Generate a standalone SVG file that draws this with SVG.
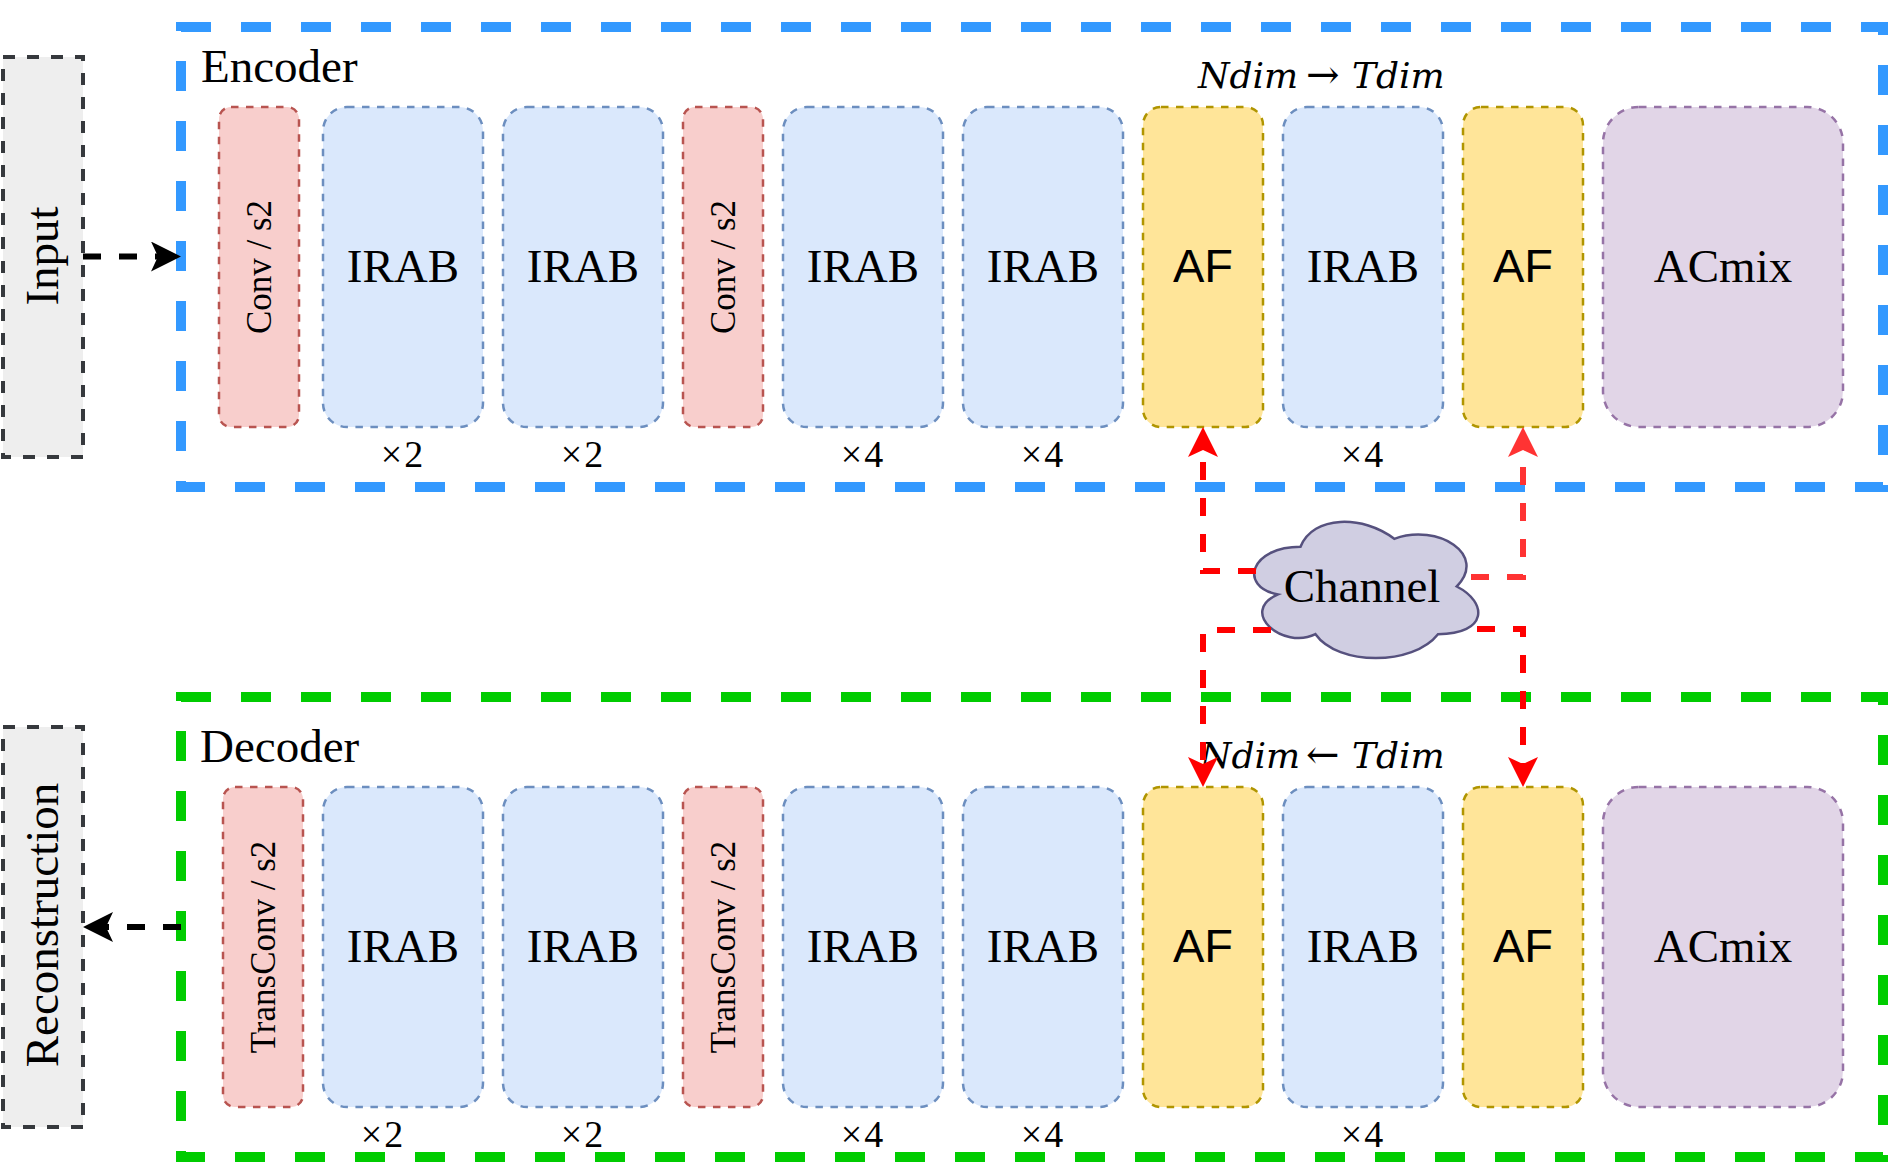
<svg xmlns="http://www.w3.org/2000/svg" width="1888" height="1168" viewBox="0 0 1888 1168">
  <style>
    .serif { font-family: "Liberation Serif", "Times New Roman", serif; fill: #000; }
    .sans { font-family: "Liberation Sans", Arial, sans-serif; fill: #000; }
    .big { font-size: 47px; }
    .rot { font-size: 35px; }
    .mult { font-size: 38px; letter-spacing: 2px; }
    .math { font-family: "DejaVu Serif", "Liberation Serif", serif; font-size: 36px; font-style: italic; fill: #000; }
    .arr { font-style: normal; font-size: 40px; }
    .conv { fill: #f8cecc; stroke: #b85450; stroke-width: 2.5; stroke-dasharray: 7.5 7.5; }
    .irab { fill: #dae8fc; stroke: #6c8ebf; stroke-width: 2.5; stroke-dasharray: 7.5 7.5; }
    .af { fill: #ffe599; stroke: #b09500; stroke-width: 2.5; stroke-dasharray: 7.5 7.5; }
    .acmix { fill: #e1d5e7; stroke: #9673a6; stroke-width: 2.5; stroke-dasharray: 7.5 7.5; }
    .io { fill: #eeeeee; stroke: #36393d; stroke-width: 4; stroke-dasharray: 12 12; }
    .frame { fill: none; stroke-width: 10; stroke-dasharray: 30 30; }
    .blk { fill: none; stroke: #000; stroke-width: 6; stroke-dasharray: 18 18; }
    .red { fill: none; stroke: #ff0000; stroke-width: 6; stroke-dasharray: 18 18; }
    .red2 { fill: none; stroke: #ff3333; stroke-width: 6; stroke-dasharray: 18 18; }
  </style>
  <defs>
    <marker id="ah-black" markerUnits="userSpaceOnUse" markerWidth="30" markerHeight="30" viewBox="0 0 30 30" refX="7" refY="15" orient="auto">
      <path d="M0,0 L30,15 L0,30 L7,15 Z" fill="#000"/>
    </marker>
    <marker id="ah-red" markerUnits="userSpaceOnUse" markerWidth="30" markerHeight="30" viewBox="0 0 30 30" refX="7" refY="15" orient="auto">
      <path d="M0,0 L30,15 L0,30 L7,15 Z" fill="#ff0000"/>
    </marker>
    <marker id="ah-red2" markerUnits="userSpaceOnUse" markerWidth="30" markerHeight="30" viewBox="0 0 30 30" refX="7" refY="15" orient="auto">
      <path d="M0,0 L30,15 L0,30 L7,15 Z" fill="#ff3333"/>
    </marker>
  </defs>

  <!-- Frames -->
  <g id="encoder">
    <rect class="frame" x="181" y="27" width="1702" height="460" stroke="#3399ff"/>
    <text class="serif big" x="201" y="82">Encoder</text>
  </g>
  <g id="decoder">
    <rect class="frame" x="181" y="697" width="1702" height="460" stroke="#00cc00"/>
    <text class="serif big" x="200" y="762">Decoder</text>
  </g>

  <!-- Input / Reconstruction -->
  <g id="input">
    <rect class="io" x="3" y="57" width="80" height="400"/>
    <text class="serif big" text-anchor="middle" transform="translate(58,256) rotate(-90)">Input</text>
  </g>
  <g id="reconstruction">
    <rect class="io" x="3" y="727" width="80" height="400"/>
    <text class="serif big" text-anchor="middle" transform="translate(58,925) rotate(-90)">Reconstruction</text>
  </g>

  <!-- Encoder blocks -->
  <g id="enc-conv1"><rect class="conv" x="219" y="107" width="80" height="320" rx="12"/><text class="serif rot" text-anchor="middle" transform="translate(271,267) rotate(-90)">Conv / s2</text></g>
  <g id="enc-irab1"><rect class="irab" x="323" y="107" width="160" height="320" rx="24"/><text class="serif big" x="403" y="282" text-anchor="middle">IRAB</text></g>
  <g id="enc-irab2"><rect class="irab" x="503" y="107" width="160" height="320" rx="24"/><text class="serif big" x="583" y="282" text-anchor="middle">IRAB</text></g>
  <g id="enc-conv2"><rect class="conv" x="683" y="107" width="80" height="320" rx="12"/><text class="serif rot" text-anchor="middle" transform="translate(735,267) rotate(-90)">Conv / s2</text></g>
  <g id="enc-irab3"><rect class="irab" x="783" y="107" width="160" height="320" rx="24"/><text class="serif big" x="863" y="282" text-anchor="middle">IRAB</text></g>
  <g id="enc-irab4"><rect class="irab" x="963" y="107" width="160" height="320" rx="24"/><text class="serif big" x="1043" y="282" text-anchor="middle">IRAB</text></g>
  <g id="enc-af1"><rect class="af" x="1143" y="107" width="120" height="320" rx="18"/><text class="sans big" x="1203" y="282" text-anchor="middle">AF</text></g>
  <g id="enc-irab5"><rect class="irab" x="1283" y="107" width="160" height="320" rx="24"/><text class="serif big" x="1363" y="282" text-anchor="middle">IRAB</text></g>
  <g id="enc-af2"><rect class="af" x="1463" y="107" width="120" height="320" rx="18"/><text class="sans big" x="1523" y="282" text-anchor="middle">AF</text></g>
  <g id="enc-acmix"><rect class="acmix" x="1603" y="107" width="240" height="320" rx="36"/><text class="serif big" x="1723" y="282" text-anchor="middle">ACmix</text></g>

  <g id="enc-labels">
    <text class="serif mult" x="403" y="467" text-anchor="middle">×2</text>
    <text class="serif mult" x="583" y="467" text-anchor="middle">×2</text>
    <text class="serif mult" x="863" y="467" text-anchor="middle">×4</text>
    <text class="serif mult" x="1043" y="467" text-anchor="middle">×4</text>
    <text class="serif mult" x="1363" y="467" text-anchor="middle">×4</text>
    <text class="math" y="88"><tspan x="1198">Ndim</tspan><tspan class="arr" x="1306">→</tspan><tspan x="1352">Tdim</tspan></text>
  </g>

  <!-- Decoder blocks -->
  <g id="dec-tconv1"><rect class="conv" x="223" y="787" width="80" height="320" rx="12"/><text class="serif rot" text-anchor="middle" transform="translate(275,947) rotate(-90)">TransConv / s2</text></g>
  <g id="dec-irab1"><rect class="irab" x="323" y="787" width="160" height="320" rx="24"/><text class="serif big" x="403" y="962" text-anchor="middle">IRAB</text></g>
  <g id="dec-irab2"><rect class="irab" x="503" y="787" width="160" height="320" rx="24"/><text class="serif big" x="583" y="962" text-anchor="middle">IRAB</text></g>
  <g id="dec-tconv2"><rect class="conv" x="683" y="787" width="80" height="320" rx="12"/><text class="serif rot" text-anchor="middle" transform="translate(735,947) rotate(-90)">TransConv / s2</text></g>
  <g id="dec-irab3"><rect class="irab" x="783" y="787" width="160" height="320" rx="24"/><text class="serif big" x="863" y="962" text-anchor="middle">IRAB</text></g>
  <g id="dec-irab4"><rect class="irab" x="963" y="787" width="160" height="320" rx="24"/><text class="serif big" x="1043" y="962" text-anchor="middle">IRAB</text></g>
  <g id="dec-af1"><rect class="af" x="1143" y="787" width="120" height="320" rx="18"/><text class="sans big" x="1203" y="962" text-anchor="middle">AF</text></g>
  <g id="dec-irab5"><rect class="irab" x="1283" y="787" width="160" height="320" rx="24"/><text class="serif big" x="1363" y="962" text-anchor="middle">IRAB</text></g>
  <g id="dec-af2"><rect class="af" x="1463" y="787" width="120" height="320" rx="18"/><text class="sans big" x="1523" y="962" text-anchor="middle">AF</text></g>
  <g id="dec-acmix"><rect class="acmix" x="1603" y="787" width="240" height="320" rx="36"/><text class="serif big" x="1723" y="962" text-anchor="middle">ACmix</text></g>

  <g id="dec-labels">
    <text class="serif mult" x="383" y="1147" text-anchor="middle">×2</text>
    <text class="serif mult" x="583" y="1147" text-anchor="middle">×2</text>
    <text class="serif mult" x="863" y="1147" text-anchor="middle">×4</text>
    <text class="serif mult" x="1043" y="1147" text-anchor="middle">×4</text>
    <text class="serif mult" x="1363" y="1147" text-anchor="middle">×4</text>
    <text class="math" y="768"><tspan x="1200">Ndim</tspan><tspan class="arr" x="1306">←</tspan><tspan x="1352">Tdim</tspan></text>
  </g>

  <!-- Channel cloud -->
  <g id="channel">
    <path d="M1300.5,546.75 C1250.5,546.75 1238,586.5 1278,594.45 C1238,611.94 1283,650.1 1315.5,634.2 C1338,666 1413,666 1438,634.2 C1488,634.2 1488,602.4 1456.75,586.5 C1488,554.7 1438,522.9 1394.25,538.8 C1363,514.95 1313,514.95 1300.5,546.75 Z" fill="#d0cee2" stroke="#56517e" stroke-width="2.5"/>
    <text class="serif big" x="1362" y="602" text-anchor="middle">Channel</text>
  </g>

  <!-- Connectors -->
  <g id="connectors">
    <path class="blk" d="M83,256.5 L158,256.5" marker-end="url(#ah-black)"/>
    <path class="blk" d="M181,927 L106,927" marker-end="url(#ah-black)"/>
    <path class="red" d="M1256,571 L1203,571 L1203,450" marker-end="url(#ah-red)"/>
    <path class="red2" d="M1471,577 L1523,577 L1523,450" marker-end="url(#ah-red2)"/>
    <path class="red" d="M1271,630 L1203,630 L1203,764" marker-end="url(#ah-red)"/>
    <path class="red" d="M1477,629 L1523,629 L1523,764" marker-end="url(#ah-red)"/>
  </g>
</svg>
